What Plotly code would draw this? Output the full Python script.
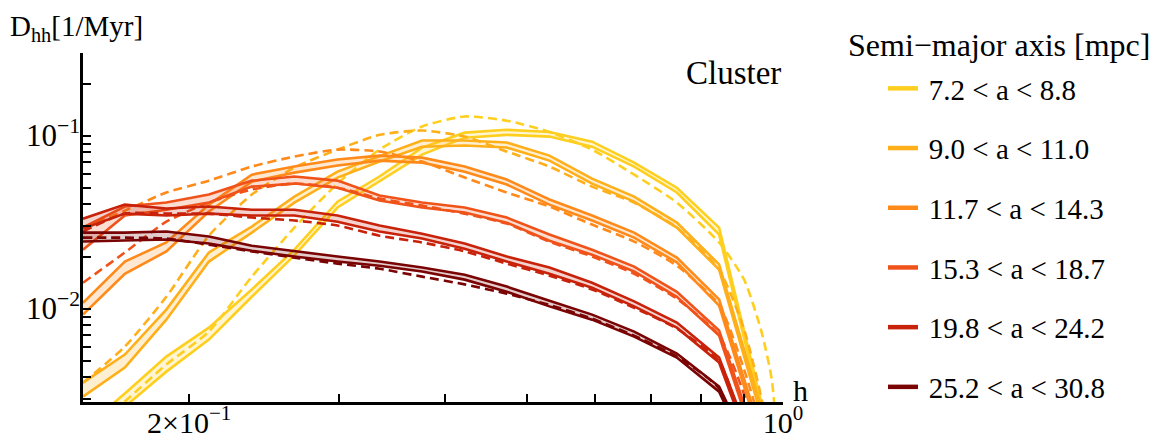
import numpy as np
import plotly.graph_objects as go

# ---------------- data ----------------
h = [0.150, 0.168, 0.188, 0.211, 0.237, 0.266, 0.299, 0.335, 0.376, 0.422,
     0.473, 0.531, 0.596, 0.668, 0.750, 0.841, 0.944]
h_model = h[:16] + [0.900, 0.944, 0.970, 0.990]

labels = ["\u20097.2 &lt; a &lt; 8.8", "\u20099.0 &lt; a &lt; 11.0", "\u200911.7 &lt; a &lt; 14.3",
          "\u200915.3 &lt; a &lt; 18.7", "\u200919.8 &lt; a &lt; 24.2", "\u200925.2 &lt; a &lt; 30.8"]
colors = ["#FFCF1F", "#FFAF1A", "#FF8A1A", "#F0531A", "#C8220A", "#7A0303"]

s1_upper = [0.0020, 0.00323, 0.00528, 0.00776, 0.0129, 0.0219, 0.0415, 0.0580, 0.0853, 0.104,
            0.108, 0.105, 0.0923, 0.0698, 0.0500, 0.0294, 0.00279]
s1_lower = [0.00164, 0.00271, 0.00432, 0.00662, 0.0117, 0.0203, 0.0384, 0.0542, 0.0777, 0.0973,
            0.101, 0.0987, 0.0863, 0.0662, 0.0469, 0.0268, 0.00254]
s1_model = [0.00175, 0.0029, 0.00475, 0.00736, 0.0153, 0.0294, 0.0528, 0.083, 0.113, 0.129,
            0.122, 0.105, 0.083, 0.0595, 0.041, 0.0241, 0.0147, 0.00727, 0.00389, 0.0012]

s2_upper = [0.00373, 0.00542, 0.00986, 0.0211, 0.0298, 0.0444, 0.0619, 0.0757, 0.0936, 0.0936,
            0.0912, 0.0766, 0.0564, 0.0444, 0.0314, 0.0180, 0.0026]
s2_lower = [0.0031, 0.00456, 0.00863, 0.0187, 0.0275, 0.041, 0.0572, 0.0708, 0.0863, 0.0876,
            0.0853, 0.0717, 0.0528, 0.0415, 0.0294, 0.0168, 0.00234]
s2_model = [0.00373, 0.00603, 0.0117, 0.0264, 0.0456, 0.0653, 0.083, 0.101, 0.107, 0.0987,
            0.0809, 0.0662, 0.0507, 0.041, 0.0294, 0.0168, 0.00757, 0.00298, 0.00134, 0.0006]

s3_upper = [0.0108, 0.0187, 0.0241, 0.0399, 0.0595, 0.0662, 0.0727, 0.0766, 0.0746, 0.0662,
            0.0557, 0.0427, 0.0345, 0.0275, 0.0197, 0.0113, 0.00185]
s3_lower = [0.00923, 0.0159, 0.0214, 0.0364, 0.0542, 0.0611, 0.0671, 0.0717, 0.0698, 0.0619,
            0.0521, 0.0399, 0.0323, 0.0257, 0.0185, 0.0104, 0.00166]
s3_model = [0.0294, 0.0368, 0.0469, 0.0549, 0.0662, 0.0757, 0.083, 0.0809, 0.0708, 0.0572,
            0.0469, 0.0389, 0.0306, 0.0244, 0.0177, 0.0105, 0.00444, 0.002, 0.001, 0.0005]

s4_upper = [0.0294, 0.0389, 0.041, 0.0456, 0.0549, 0.058, 0.0549, 0.045, 0.041, 0.0384,
            0.0336, 0.0268, 0.0219, 0.0175, 0.0125, 0.00746, 0.0014]
s4_lower = [0.0219, 0.0345, 0.0373, 0.041, 0.0507, 0.0528, 0.05, 0.0421, 0.0384, 0.0359,
            0.0314, 0.0247, 0.0205, 0.0164, 0.0117, 0.00698, 0.00125]
s4_model = [0.0141, 0.0211, 0.0318, 0.041, 0.0488, 0.0528, 0.05, 0.0433, 0.0394, 0.0354,
            0.031, 0.0244, 0.02, 0.0159, 0.0114, 0.00698, 0.00318, 0.00119, 0.0006, 0.0003]

s5_upper = [0.0331, 0.0399, 0.0379, 0.0389, 0.0373, 0.0373, 0.0345, 0.0302, 0.0271, 0.0238,
            0.02, 0.0173, 0.0141, 0.011, 0.0083, 0.00521, 0.00117]
s5_lower = [0.029, 0.0354, 0.0345, 0.0354, 0.0345, 0.0345, 0.0318, 0.0279, 0.0254, 0.0222,
            0.0187, 0.0159, 0.0132, 0.0103, 0.00776, 0.00488, 0.00105]
s5_model = [0.0279, 0.0354, 0.0354, 0.0354, 0.0336, 0.0323, 0.0302, 0.0264, 0.0241, 0.0214,
            0.0182, 0.0155, 0.0129, 0.0101, 0.00766, 0.00494, 0.002, 0.001, 0.0005, 0.0003]

s6_upper = [0.0275, 0.0275, 0.0279, 0.0261, 0.0231, 0.0214, 0.02, 0.0187, 0.0173, 0.0157,
            0.0134, 0.0111, 0.00923, 0.00736, 0.0055, 0.00354, 0.00108]
s6_lower = [0.0244, 0.0247, 0.0251, 0.0238, 0.0216, 0.02, 0.0187, 0.0177, 0.0164, 0.0147,
            0.0125, 0.0103, 0.00863, 0.00689, 0.00521, 0.00331, 0.00097]
s6_model = [0.0257, 0.0257, 0.0254, 0.0234, 0.0214, 0.0197, 0.0182, 0.017, 0.0153, 0.0138,
            0.0122, 0.0105, 0.00875, 0.00698, 0.00528, 0.00345, 0.00135, 0.0008, 0.0004, 0.0002]

x_tickvals = [0.2, 1.0]
x_ticktext = ["2×10<sup>−1</sup>", "10<sup>0</sup>"]
x_minor = [0.3, 0.4, 0.5, 0.6, 0.7, 0.8, 0.9]
y_tickvals = [0.01, 0.1]
y_ticktext = ["10<sup>−2</sup>", "10<sup>−1</sup>"]
y_minor = [0.003, 0.004, 0.005, 0.006, 0.007, 0.008, 0.009,
           0.02, 0.03, 0.04, 0.05, 0.06, 0.07, 0.08, 0.09, 0.2, 0.3]

series = [
    (s1_upper, s1_lower, s1_model),
    (s2_upper, s2_lower, s2_model),
    (s3_upper, s3_lower, s3_model),
    (s4_upper, s4_lower, s4_model),
    (s5_upper, s5_lower, s5_model),
    (s6_upper, s6_lower, s6_model),
]


def rgba(hexcol, a):
    hexcol = hexcol.lstrip("#")
    r, g, b = (int(hexcol[i:i + 2], 16) for i in (0, 2, 4))
    return f"rgba({r},{g},{b},{a})"


FONT = "Liberation Serif"
fig = go.Figure()

for (up, lo, mo), col in zip(series, colors):
    fig.add_trace(go.Scatter(x=h, y=lo, mode="lines", line=dict(color=col, width=2.6),
                             showlegend=False, hoverinfo="skip"))
    fig.add_trace(go.Scatter(x=h, y=up, mode="lines", line=dict(color=col, width=2.6),
                             fill="tonexty", fillcolor=rgba(col, 0.2),
                             showlegend=False, hoverinfo="skip"))
    fig.add_trace(go.Scatter(x=h_model, y=mo, mode="lines",
                             line=dict(color=col, width=2.6, dash="9px,5px",
                                       shape="spline", smoothing=0.6),
                             showlegend=False, hoverinfo="skip"))

for name, col in zip(labels, colors):
    fig.add_trace(go.Scatter(x=[None], y=[None], mode="lines", name=name, legendgroup=name,
                             line=dict(color=col, width=4.5)))

tick_common = dict(ticks="inside", ticklen=8, tickwidth=2, tickcolor="black")

# the page adds an 8 px body margin, so the plot area is placed 8 px up/left
fig.update_layout(
    width=1169, height=443,
    margin=dict(l=75, r=394, t=45, b=49, autoexpand=False),
    plot_bgcolor="white", paper_bgcolor="white",
    font=dict(family=FONT, size=29, color="black"),
    xaxis=dict(type="log", range=[np.log10(0.15), 0.0], showline=True, linecolor="black",
               linewidth=2.5, showgrid=False, zeroline=False, automargin=False,
               tickmode="array", tickvals=x_tickvals, ticktext=x_ticktext,
               tickfont=dict(family=FONT, size=30), ticklabelstandoff=-8, **tick_common,
               minor=dict(tickmode="array", tickvals=x_minor, showgrid=False, **tick_common)),
    yaxis=dict(type="log", range=[-2.540, -0.5225], showline=True, linecolor="black",
               linewidth=2.5, showgrid=False, zeroline=False, automargin=False,
               tickmode="array", tickvals=y_tickvals, ticktext=y_ticktext,
               tickfont=dict(family=FONT, size=31), ticklabelstandoff=-6, **tick_common,
               minor=dict(tickmode="array", tickvals=y_minor, showgrid=False, **tick_common)),
    showlegend=True,
    legend=dict(x=(883 - 83) / 700, xanchor="left", y=(402 - 63) / 349, yanchor="top",
                font=dict(family=FONT, size=29), tracegroupgap=19, maxheight=440,
                bgcolor="rgba(0,0,0,0)", borderwidth=0, itemwidth=30),
    annotations=[
        dict(text="D<sub>hh</sub>[1/Myr]", xref="paper", yref="paper",
             x=(8 - 83) / 700, y=(402 - 28) / 349, xanchor="left", yanchor="middle",
             showarrow=False, font=dict(family=FONT, size=29)),
        dict(text="h", xref="paper", yref="paper", x=(791 - 83) / 700, y=(402 - 390) / 349,
             xanchor="left", yanchor="middle", showarrow=False, font=dict(family=FONT, size=30)),
        dict(text="Cluster", xref="paper", yref="paper", x=1.0, y=(402 - 73) / 349,
             xanchor="right", yanchor="middle", showarrow=False, font=dict(family=FONT, size=33)),
        dict(text="Semi−major axis [mpc]", xref="paper", yref="paper",
             x=(846 - 83) / 700, y=(402 - 45) / 349, xanchor="left", yanchor="middle",
             showarrow=False, font=dict(family=FONT, size=32)),
    ],
)

fig.write_html("out.html")
